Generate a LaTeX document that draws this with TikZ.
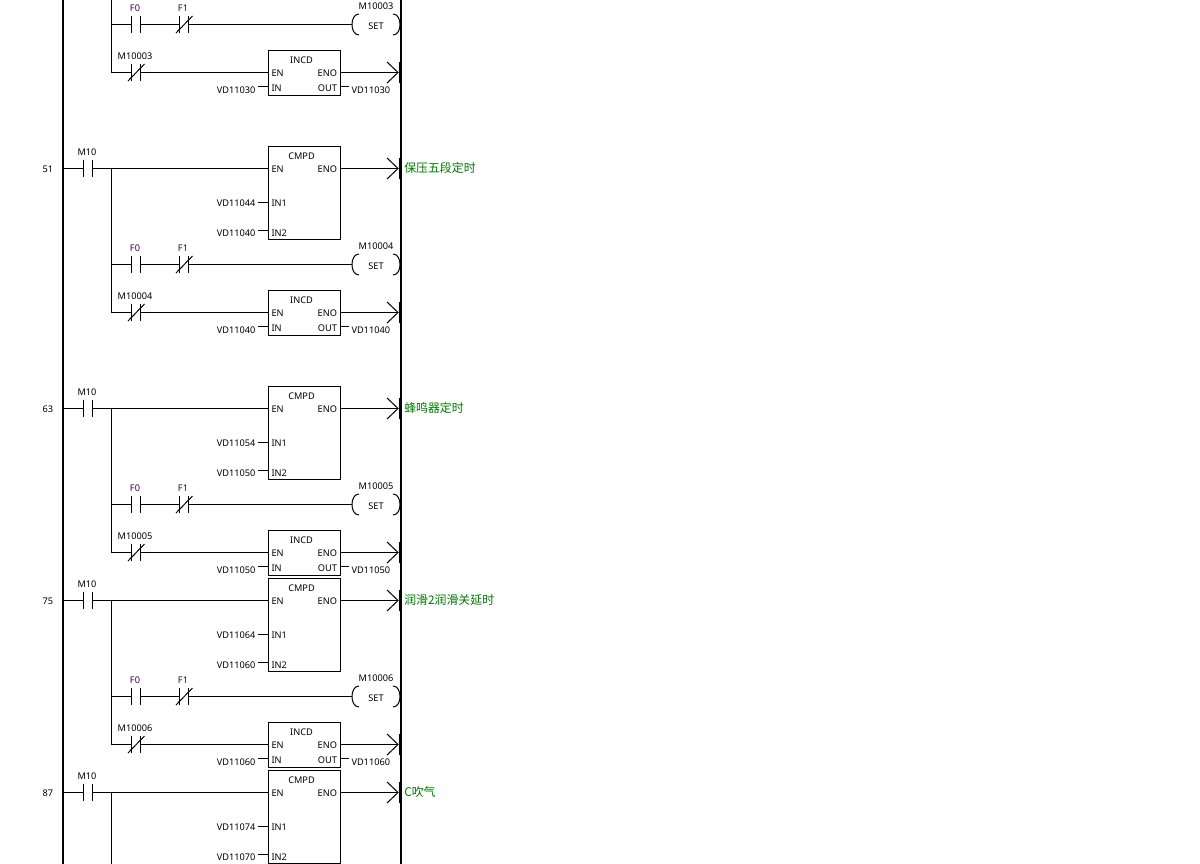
\documentclass[tikz,border=0pt]{standalone}
\usepackage{fontspec}
\setmainfont{Noto Sans}
\newfontfamily\cjkfont{Noto Sans CJK SC}
\usepackage{tikz}
\usetikzlibrary{arrows.meta}
\usetikzlibrary{calc}
\usetikzlibrary{positioning}

\definecolor{relay}{HTML}{380038}
\definecolor{outgreen}{HTML}{007800}

\tikzset{
  tag/.style={font=\fontsize{9.2}{10}\selectfont,inner sep=0pt,outer sep=0pt,text height=7pt,text depth=0pt},
  value/.style={tag,inner xsep=2.5pt},
  bars/.style={rectangle,inner sep=0pt,outer sep=0pt,minimum width=9pt,minimum height=17pt,
    label={[tag,xshift=-1pt]above:#1},
    append after command={(\tikzlastnode.north west) edge (\tikzlastnode.south west)
      (\tikzlastnode.north east) edge (\tikzlastnode.south east)}},
  nopen/.style={bars=#1},
  nclosed/.style={bars=#1,
    append after command={([xshift=-3.5pt]\tikzlastnode.south west) edge ([xshift=4pt]\tikzlastnode.north east)}},
  cmpbox/.style={rectangle,draw,inner sep=0pt,outer sep=0pt,minimum width=72pt,minimum height=93pt},
  incbox/.style={rectangle,draw,inner sep=0pt,outer sep=0pt,minimum width=72pt,minimum height=45pt},
  setcoil/.style={tag,text height=10pt,minimum width=48pt,minimum height=21pt,
    label={[tag,text height=7pt]above:#1},
    append after command={([xshift=7pt]\tikzlastnode.north west) edge[out=180,in=90] (\tikzlastnode.west)
      (\tikzlastnode.west) edge[out=-90,in=180] ([xshift=7pt]\tikzlastnode.south west)
      ([xshift=-7pt]\tikzlastnode.north east) edge[out=0,in=90] (\tikzlastnode.east)
      (\tikzlastnode.east) edge[out=-90,in=0] ([xshift=-7pt]\tikzlastnode.south east)}},
  outmark/.style={rectangle,fill,inner sep=0pt,outer sep=0pt,minimum width=1.5pt,minimum height=21pt},
  outtext/.style={font=\cjkfont\fontsize{11.9}{13}\selectfont,text=outgreen,inner sep=0pt,right=3.5pt of #1,yshift=1pt},
}

% compare block hanging off the M10 contact: rung, IN1, IN2, output text
\newcommand{\cmpdblock}[4]{
    \node[cmpbox,on grid,below right=24.5pt and 216.5pt of m#1] (cmp#1) {};
    \node[tag] (cmpname#1) at ($ (cmp#1.north) + (-3,9.5) $) {CMPD};
    \node[tag,anchor=west] (cmpen#1) at ($ (cmp#1.north west) + (3,22.5) $) {EN};
    \node[tag,anchor=east] (cmpeno#1) at ($ (cmp#1.north east) + (-3.5,22.5) $) {ENO};
    \node[tag,anchor=west] (cmpin#1) at ($ (cmp#1.north west) + (3,56.5) $) {IN1};
    \node[tag,anchor=west] (cmpinb#1) at ($ (cmp#1.north west) + (3,86.5) $) {IN2};
    \node[value,anchor=east] (vala#1) at ($ (cmp#1.north west) + (-10.5,56) $) {#2};
    \node[value,anchor=east] (valb#1) at ($ (cmp#1.north west) + (-10.5,86) $) {#3};
    \node[outmark] (cmpout#1) at (399.5,0 |- m#1) {};
    \node[outtext=cmpout#1] (cmptext#1) {#4};
    \draw (m#1.east) -- (cmp#1.west |- m#1);
    \draw[->] (cmp#1.east |- m#1) -- (cmpout#1);
    \draw (vala#1.east) -- (cmp#1.west |- vala#1);
    \draw ($ (valb#1.east) + (0,-2) $) -- ++(10.5,0);
}

% increment block hanging off the normally closed contact: rung, value
\newcommand{\incdblock}[2]{
    \node[incbox,on grid,below right=0.5pt and 168.5pt of nc#1] (inc#1) {};
    \node[tag] (incname#1) at ($ (inc#1.north) + (-3,9.5) $) {INCD};
    \node[tag,anchor=west] (incen#1) at ($ (inc#1.north west) + (3,22.5) $) {EN};
    \node[tag,anchor=east] (inceno#1) at ($ (inc#1.north east) + (-3.5,22.5) $) {ENO};
    \node[tag,anchor=west] (incin#1) at ($ (inc#1.north west) + (3,37.5) $) {IN};
    \node[tag,anchor=east] (incq#1) at ($ (inc#1.north east) + (-3.5,37.5) $) {OUT};
    \node[value,anchor=east] (valin#1) at ($ (inc#1.north west) + (-10.5,39.5) $) {#2};
    \node[value,anchor=west] (valq#1) at ($ (inc#1.north east) + (8.5,39.5) $) {#2};
    \node[outmark] (incout#1) at (399.5,0 |- nc#1) {};
    \draw (nc#1.east) -- (inc#1.west |- nc#1);
    \draw[->] (inc#1.east |- nc#1) -- (incout#1);
    \draw (valin#1.north east) -- (inc#1.west |- valin#1.north east);
    \draw (inc#1.east |- valq#1.north west) -- (valq#1.north west);
}

\begin{document}
\begin{tikzpicture}[x=1pt,y=-1pt,line width=1pt,>={Straight Barb[length=11pt,width=21pt]},label distance=4.5pt]

    \useasboundingbox (0,0) rectangle (1200,864);

    \coordinate (railltop) at (63.2,0);
    \coordinate (raillbot) at (63.2,864);
    \coordinate (railrtop) at (401,0);
    \coordinate (railrbot) at (401,864);
    \draw[line width=2.2pt] (railltop) -- (raillbot);
    \draw[line width=2.2pt] (railrtop) -- (railrbot);

    % rung cut off by the top edge
    \coordinate (br39) at (111.5,0);
    \node[nopen={\textcolor{relay}{F0}}] (f039) at (136,24.5) {};
    \node[nclosed={\textcolor{relay}{F1}},on grid,right=48pt of f039] (f139) {};
    \node[setcoil=M10003,on grid,right=192pt of f139] (coil39) {SET};
    \node[nclosed=M10003,on grid,below=48pt of f039] (nc39) {};
    \incdblock{39}{VD11030}
    \draw (br39) |- (f039.west);
    \draw (f039.east) -- (f139.west);
    \draw (f139.east) -- (coil39.west);
    \draw (br39) |- (nc39.west);

    % 51
    \node[tag] (num51) at (48,168.5) {51};
    \node[nopen=M10] (m51) at (88,168.5) {};
    \coordinate (br51) at (111.5,168.5);
    \node[nopen={\textcolor{relay}{F0}},on grid,below right=96pt and 48pt of m51] (f051) {};
    \node[nclosed={\textcolor{relay}{F1}},on grid,right=48pt of f051] (f151) {};
    \node[setcoil=M10004,on grid,right=192pt of f151] (coil51) {SET};
    \node[nclosed=M10004,on grid,below=48pt of f051] (nc51) {};
    \cmpdblock{51}{VD11044}{VD11040}{保压五段定时}
    \incdblock{51}{VD11040}
    \draw (railltop |- m51) -- (m51.west);
    \draw (br51) |- (f051.west);
    \draw (f051.east) -- (f151.west);
    \draw (f151.east) -- (coil51.west);
    \draw (br51) |- (nc51.west);

    % 63
    \node[tag] (num63) at (48,408.5) {63};
    \node[nopen=M10] (m63) at (88,408.5) {};
    \coordinate (br63) at (111.5,408.5);
    \node[nopen={\textcolor{relay}{F0}},on grid,below right=96pt and 48pt of m63] (f063) {};
    \node[nclosed={\textcolor{relay}{F1}},on grid,right=48pt of f063] (f163) {};
    \node[setcoil=M10005,on grid,right=192pt of f163] (coil63) {SET};
    \node[nclosed=M10005,on grid,below=48pt of f063] (nc63) {};
    \cmpdblock{63}{VD11054}{VD11050}{蜂鸣器定时}
    \incdblock{63}{VD11050}
    \draw (railltop |- m63) -- (m63.west);
    \draw (br63) |- (f063.west);
    \draw (f063.east) -- (f163.west);
    \draw (f163.east) -- (coil63.west);
    \draw (br63) |- (nc63.west);

    % 75
    \node[tag] (num75) at (48,600.5) {75};
    \node[nopen=M10] (m75) at (88,600.5) {};
    \coordinate (br75) at (111.5,600.5);
    \node[nopen={\textcolor{relay}{F0}},on grid,below right=96pt and 48pt of m75] (f075) {};
    \node[nclosed={\textcolor{relay}{F1}},on grid,right=48pt of f075] (f175) {};
    \node[setcoil=M10006,on grid,right=192pt of f175] (coil75) {SET};
    \node[nclosed=M10006,on grid,below=48pt of f075] (nc75) {};
    \cmpdblock{75}{VD11064}{VD11060}{润滑2润滑关延时}
    \incdblock{75}{VD11060}
    \draw (railltop |- m75) -- (m75.west);
    \draw (br75) |- (f075.west);
    \draw (f075.east) -- (f175.west);
    \draw (f175.east) -- (coil75.west);
    \draw (br75) |- (nc75.west);

    % 87, runs off the bottom edge
    \node[tag] (num87) at (48,792.5) {87};
    \node[nopen=M10] (m87) at (88,792.5) {};
    \coordinate (br87) at (111.5,792.5);
    \coordinate (brend87) at (111.5,864);
    \cmpdblock{87}{VD11074}{VD11070}{C吹气}
    \draw (railltop |- m87) -- (m87.west);
    \draw (br87) -- (brend87);

\end{tikzpicture}
\end{document}
